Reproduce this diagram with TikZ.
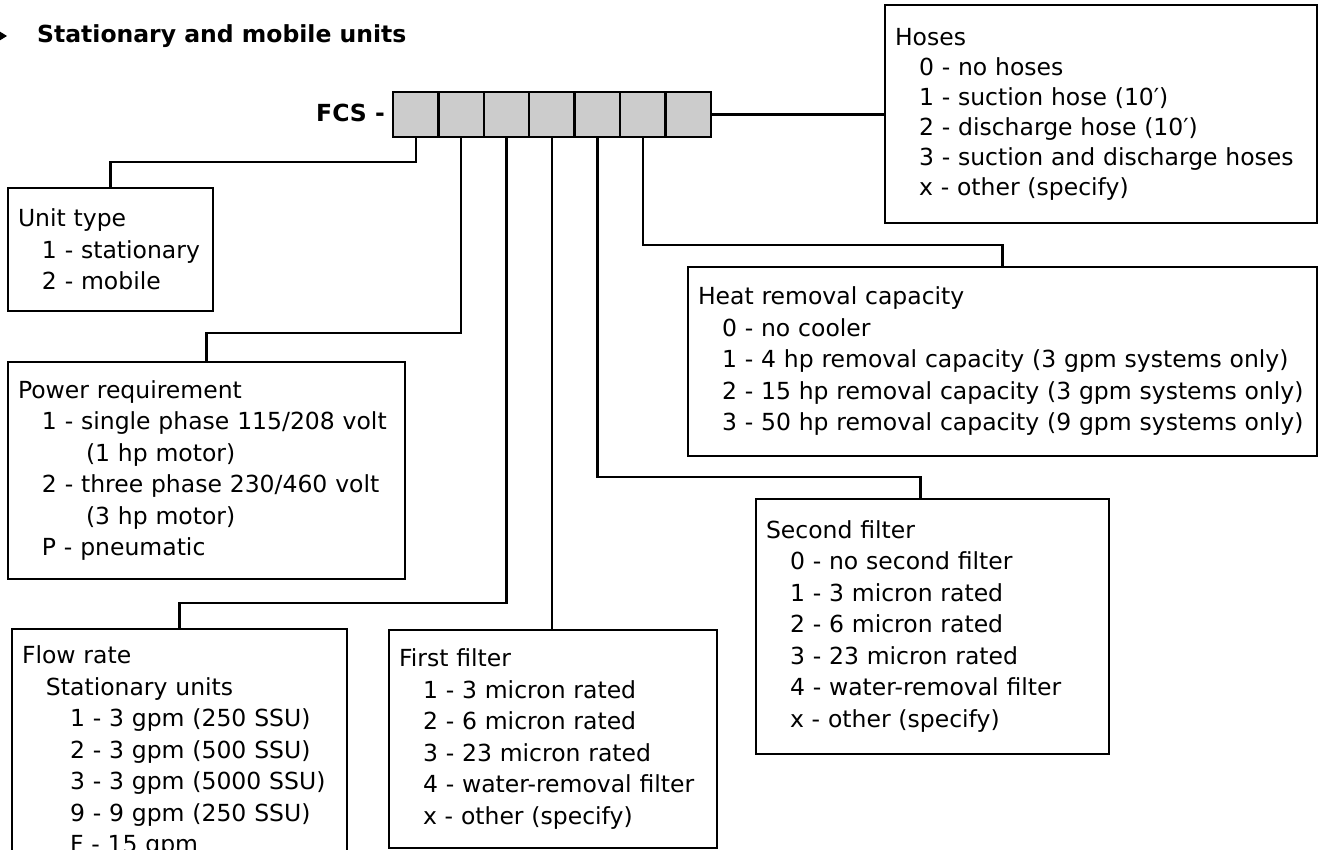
\documentclass[tikz,border=0pt]{standalone}
\usepackage{fontspec}
\setmainfont{DejaVu Sans}
\usetikzlibrary{positioning}

\newcommand{\boxfont}{\fontsize{23.5}{31.5}\selectfont}
\newcommand{\ind}{\hspace*{24pt}}

\begin{document}
\begin{tikzpicture}[x=1pt,y=-1pt,
        cell/.style={draw, line width=2.4pt, fill=gray!40, outer sep=0pt,
            inner sep=0pt, minimum width=45.4pt, minimum height=45pt},
        optbox/.style={draw, line width=2.4pt, anchor=north west, outer sep=0pt,
            inner xsep=10pt, inner ysep=0pt, align=left, font=\boxfont},
        link/.style={line width=2.4pt}]
    \useasboundingbox (0,0) rectangle (1319,850);

    \fill (-6,28) -- (7,36) -- (-6,44) -- (-2,36) -- cycle;
    \node[anchor=base west, inner sep=0pt, font=\boxfont\bfseries] (title)
        at (37,43) {Stationary and mobile units};

    \node[cell, anchor=north west] (c1) at (393,92) {};
    \node[cell, right=0pt of c1] (c2) {};
    \node[cell, right=0pt of c2] (c3) {};
    \node[cell, right=0pt of c3] (c4) {};
    \node[cell, right=0pt of c4] (c5) {};
    \node[cell, right=0pt of c5] (c6) {};
    \node[cell, right=0pt of c6] (c7) {};
    \node[anchor=base east, inner sep=0pt, font=\boxfont\bfseries] (fcs)
        at (385,122) {FCS -};

    \node[optbox, text width=412pt, minimum height=218pt,
          font=\fontsize{23.5}{30}\selectfont] (hoses) at (885,5)
        {Hoses\\
         \ind 0 - no hoses\\
         \ind 1 - suction hose (10′)\\
         \ind 2 - discharge hose (10′)\\
         \ind 3 - suction and discharge hoses\\
         \ind x - other (specify)};

    \node[optbox, text width=185pt, minimum height=123pt] (unit) at (8,188)
        {Unit type\\
         \ind 1 - stationary\\
         \ind 2 - mobile};

    \node[optbox, text width=377pt, minimum height=217pt] (power) at (8,362)
        {Power requirement\\
         \ind 1 - single phase 115/208 volt\\
         \hspace*{68pt}(1 hp motor)\\
         \ind 2 - three phase 230/460 volt\\
         \hspace*{68pt}(3 hp motor)\\
         \ind P - pneumatic};

    \node[optbox, text width=609pt, minimum height=189pt] (heat) at (688,267)
        {Heat removal capacity\\
         \ind 0 - no cooler\\
         \ind 1 - 4 hp removal capacity (3 gpm systems only)\\
         \ind 2 - 15 hp removal capacity (3 gpm systems only)\\
         \ind 3 - 50 hp removal capacity (9 gpm systems only)};

    \node[optbox, text width=333pt, minimum height=255pt] (second) at (756,499)
        {Second filter\\
         \ind 0 - no second filter\\
         \ind 1 - 3 micron rated\\
         \ind 2 - 6 micron rated\\
         \ind 3 - 23 micron rated\\
         \ind 4 - water-removal filter\\
         \ind x - other (specify)};

    \node[optbox, text width=315pt, minimum height=246pt] (flow) at (12,629)
        {Flow rate\\
         \ind Stationary units\\
         \ind\ind 1 - 3 gpm (250 SSU)\\
         \ind\ind 2 - 3 gpm (500 SSU)\\
         \ind\ind 3 - 3 gpm (5000 SSU)\\
         \ind\ind 9 - 9 gpm (250 SSU)\\
         \ind\ind F - 15 gpm};

    \node[optbox, text width=308pt, minimum height=218pt] (first) at (389,630)
        {First filter\\
         \ind 1 - 3 micron rated\\
         \ind 2 - 6 micron rated\\
         \ind 3 - 23 micron rated\\
         \ind 4 - water-removal filter\\
         \ind x - other (specify)};

    \draw[link] (c1.south) |- ([yshift=26pt]unit.north) -- (unit.north);
    \draw[link] (c2.south) |- ([yshift=29pt]power.north) -- (power.north);
    \draw[link] (c3.south) |- ([yshift=26pt]flow.north) -- (flow.north);
    \draw[link] (c4.south) -- (c4.south |- first.north);
    \draw[link] (c5.south) |- ([xshift=-12pt,yshift=22pt]second.north)
        -- ([xshift=-12pt]second.north);
    \draw[link] (c6.south) |- ([yshift=22pt]heat.north) -- (heat.north);
    \draw[link] (c7.east) -- (c7.east -| hoses.west);
\end{tikzpicture}
\end{document}
